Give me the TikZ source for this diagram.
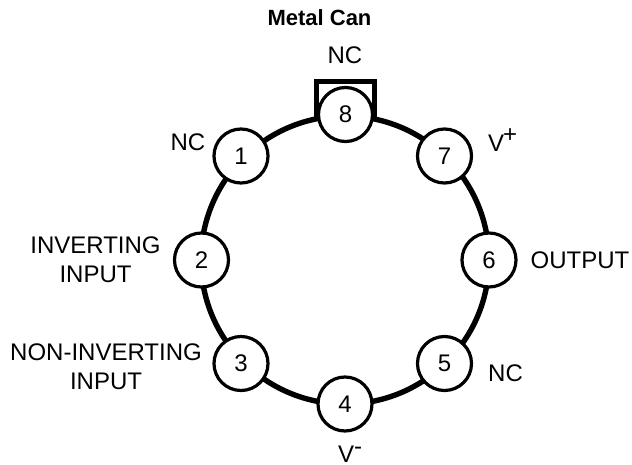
\documentclass[tikz,border=0pt]{standalone}
\usepackage{fontspec}
\setmainfont{Liberation Sans}
\newcommand{\supsym}[2]{\raisebox{#1}{#2}}
\tikzset{
  pin/.style={circle,draw=black,line width=3.2pt,fill=white,minimum size=54pt,inner sep=0pt,font=\fontsize{24}{25}\selectfont},
  lab/.style={font=\fontsize{24}{29}\selectfont,inner sep=0pt,align=center},
  ring/.style={draw=black,line width=5.4pt},
  tab/.style={draw=black,line width=4.6pt}
}
\begin{document}
\begin{tikzpicture}[x=1pt,y=-1pt,line join=miter]
\useasboundingbox (0,0) rectangle (632,465);
\coordinate (c) at (345,260);
\draw[ring] (c) circle (144);
\coordinate (t1) at (316.5,120); \coordinate (t2) at (316.5,81.5); \coordinate (t3) at (374.5,81.5); \coordinate (t4) at (374.5,120);
\draw[tab] (t1) -- (t2) -- (t3) -- (t4);
\node[pin] (p8) at (345.5,114.5) {8};
\node[pin] (p1) at (241,156) {1};
\node[pin] (p7) at (444.5,156) {7};
\node[pin] (p2) at (201.5,260) {2};
\node[pin] (p6) at (489,260) {6};
\node[pin] (p3) at (241,363.5) {3};
\node[pin] (p5) at (444.5,363.5) {5};
\node[pin] (p4) at (345,404) {4};
\node[inner sep=0pt,font=\bfseries\fontsize{22}{24}\selectfont] (title) at (319.5,17.5) {Metal Can};
\node[lab] (l8) at (345,55) {NC};
\node[lab] (l1) at (188,142) {NC};
\node[lab,anchor=base west] (l7) at (488,152) {V\hspace{-1pt}\supsym{9pt}{+}};
\node[lab] (l2) at (95.5,260) {INVERTING\\INPUT};
\node[lab] (l6) at (580,260.5) {OUTPUT};
\node[lab] (l3) at (106,367) {NON-INVERTING\\INPUT};
\node[lab] (l5) at (505.5,373.5) {NC};
\node[lab,anchor=base west] (l4) at (338,462) {V\supsym{8pt}{-}};
\end{tikzpicture}
\end{document}
